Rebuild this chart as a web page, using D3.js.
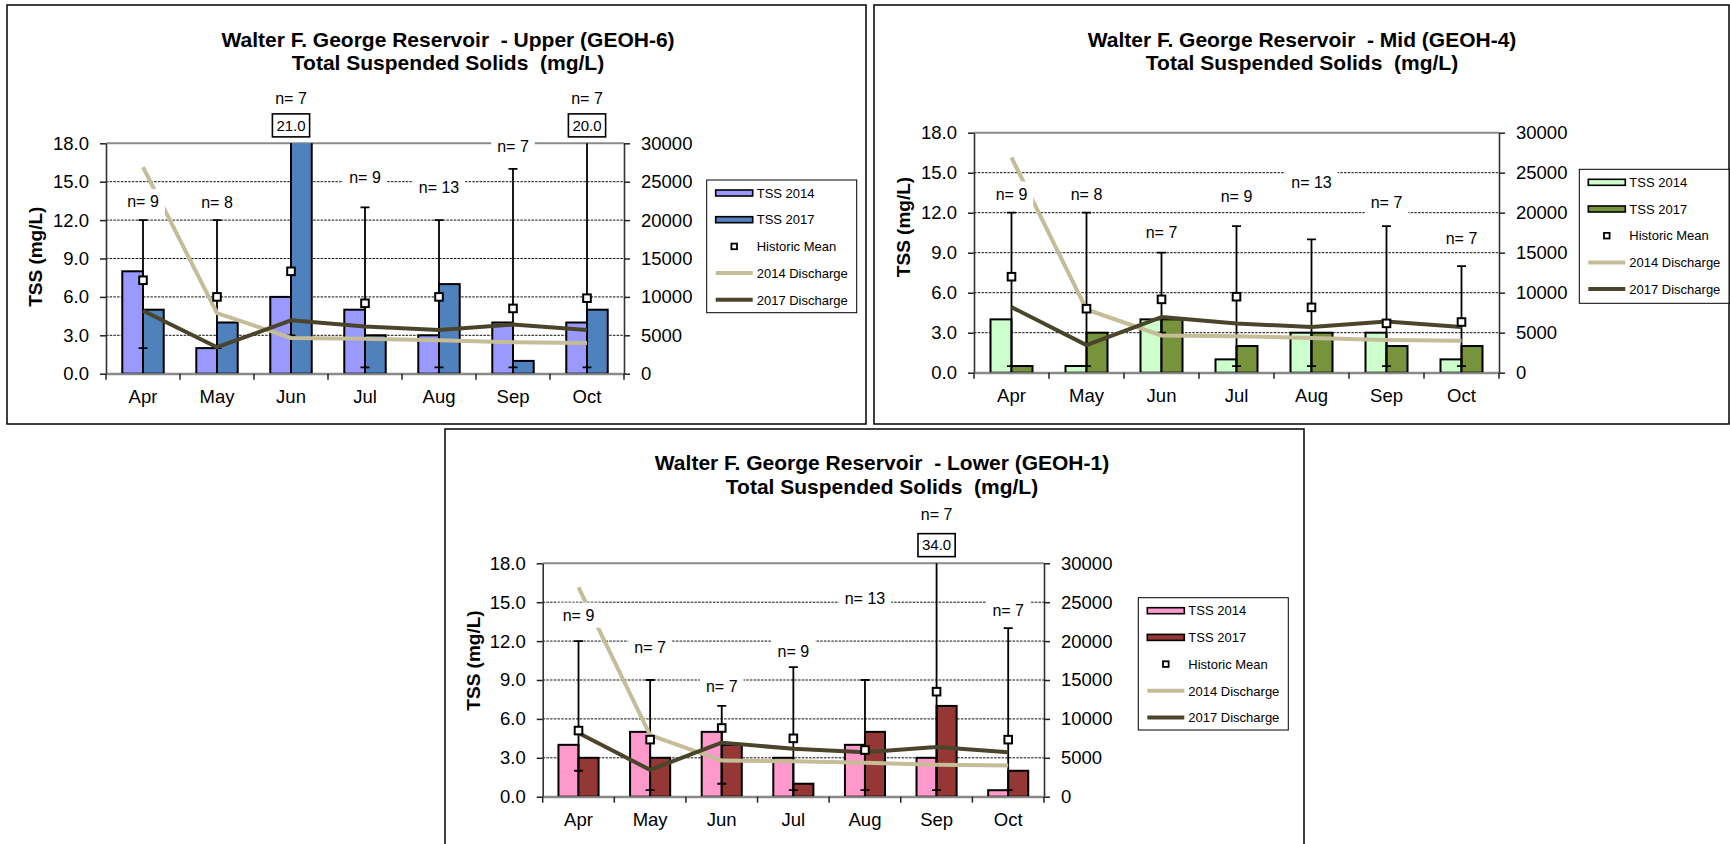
<!DOCTYPE html>
<html>
<head>
<meta charset="utf-8">
<script src="https://cdn.jsdelivr.net/npm/d3@7"></script>
<style>
  body { margin: 0; background: #fff; }
  svg { display: block; }
  text { font-family: "Liberation Sans", Arial, sans-serif; fill: #000; }
</style>
</head>
<body>
<svg id="chart" width="1730" height="844"></svg>
<script>
// ---- shared categories and axis ticks ----
const months = ["Apr", "May", "Jun", "Jul", "Aug", "Sep", "Oct"];
const tssTicks = [0, 3, 6, 9, 12, 15, 18];
const flowTicks = [0, 5000, 10000, 15000, 20000, 25000, 30000];

// ---- reservoir discharge (cfs), same for all stations ----
const discharge2014 = [26900, 7900, 4650, 4550, 4350, 4100, 4000];
const discharge2017 = [8200, 3450, 6950, 6150, 5700, 6400, 5700];

// ---- Upper (GEOH-6) ----
const upperTss2014 = [8, 2, 6, 5, 3, 4, 4];
const upperTss2017 = [5, 4, 21, 3, 7, 1, 5];
const upperMean = [7.3, 6.0, 8.0, 5.5, 6.0, 5.1, 5.9];
const upperMax = [12, 12, 21, 13, 12, 16, 20];
const upperMin = [2, 2, 3, 0.5, 0.5, 0.5, 0.5];
const upperN = [9, 8, 7, 9, 13, 7, 7];
const upperOffScale = [["Jun", 21.0], ["Oct", 20.0]];

// ---- Mid (GEOH-4) ----
const midTss2014 = [4, 0.5, 4, 1, 3, 3, 1];
const midTss2017 = [0.5, 3, 4, 2, 3, 2, 2];
const midMean = [7.2, 4.8, 5.5, 5.7, 4.9, 3.7, 3.8];
const midMax = [12, 12, 9, 11, 10, 11, 8];
const midMin = [0.5, 0.5, 3, 0.5, 0.5, 0.5, 0.5];
const midN = [9, 8, 7, 9, 13, 7, 7];
const midOffScale = [];

// ---- Lower (GEOH-1) ----
const lowerTss2014 = [4, 5, 5, 3, 4, 3, 0.5];
const lowerTss2017 = [3, 3, 4, 1, 5, 7, 2];
const lowerMean = [5.1, 4.4, 5.3, 4.5, 3.6, 8.1, 4.4];
const lowerMax = [12, 9, 7, 10, 9, 34, 13];
const lowerMin = [2, 0.5, 1, 0.5, 0.5, 0.5, 0.5];
const lowerN = [9, 7, 7, 9, 13, 7, 7];
const lowerOffScale = [["Sep", 34.0]];

// ---- panel layout (pixels) ----
const panels = [
  {
    site: "Upper (GEOH-6)",
    tss2014: upperTss2014, tss2017: upperTss2017, mean: upperMean, max: upperMax, min: upperMin,
    n: upperN, offScale: upperOffScale,
    colors: ["#9999FF", "#4F81BD"],
    frame: [7, 5, 866, 424],
    plot: [106, 143.3, 624, 373.7],
    titleX: 448, titleY: 46.5,
    yTitle: [34.7, 256.7],
    legend: [706.7, 180, 150, 132.7],
    nLabelAt: [13.45, 13.4, 21.5, 15.3, 14.55, 17.77, 21.5]
  },
  {
    site: "Mid (GEOH-4)",
    tss2014: midTss2014, tss2017: midTss2017, mean: midMean, max: midMax, min: midMin,
    n: midN, offScale: midOffScale,
    colors: ["#CCFFCC", "#77933C"],
    frame: [874, 5, 1729, 424],
    plot: [974, 132.7, 1499, 372.7],
    titleX: 1302, titleY: 46.5,
    yTitle: [903.3, 227],
    legend: [1579.3, 169.3, 149.7, 134],
    nLabelAt: [13.4, 13.4, 10.55, 13.25, 14.27, 12.8, 10.05]
  },
  {
    site: "Lower (GEOH-1)",
    tss2014: lowerTss2014, tss2017: lowerTss2017, mean: lowerMean, max: lowerMax, min: lowerMin,
    n: lowerN, offScale: lowerOffScale,
    colors: ["#FF99CC", "#953735"],
    frame: [445, 429, 1304, 860],
    plot: [542.7, 563.3, 1044, 796.7],
    titleX: 882, titleY: 470,
    yTitle: [473.3, 660.5],
    legend: [1138.3, 597.7, 150, 132.3],
    nLabelAt: [14.0, 11.55, 8.52, 11.2, 15.31, 21.74, 14.37]
  }
];

const FLOW14 = "#C4BD97";
const FLOW17 = "#4A452A";

const svg = d3.select("#chart");
svg.append("rect").attr("width", 1730).attr("height", 844).attr("fill", "#fff");

panels.forEach((p, pi) => {
  const g = svg.append("g");
  const [x0, y0, x1, y1] = p.plot;

  const x = d3.scaleBand().domain(months).range([x0, x1]).paddingInner(0).paddingOuter(0);
  const y = d3.scaleLinear().domain([0, 18]).range([y1, y0]);
  const yR = d3.scaleLinear().domain([0, 30000]).range([y1, y0]);
  const cx = m => x(m) + x.bandwidth() / 2;
  const bw = x.bandwidth() * 0.28;

  // frame
  const [fx0, fy0, fx1, fy1] = p.frame;
  g.append("rect").attr("x", fx0).attr("y", fy0).attr("width", fx1 - fx0).attr("height", fy1 - fy0)
    .attr("fill", "none").attr("stroke", "#000").attr("stroke-width", 1.5);

  // title (spacing kept as written)
  const title = g.append("text").attr("x", p.titleX).attr("y", p.titleY)
    .attr("text-anchor", "middle").attr("font-size", 21).attr("font-weight", "bold")
    .style("white-space", "pre");
  title.append("tspan").attr("x", p.titleX).text("Walter F. George Reservoir  - " + p.site);
  title.append("tspan").attr("x", p.titleX).attr("dy", 23.5).text("Total Suspended Solids  (mg/L)");

  // clip for plot area
  const clipId = "clip" + pi;
  svg.append("clipPath").attr("id", clipId).append("rect")
    .attr("x", x0).attr("y", y0).attr("width", x1 - x0).attr("height", y1 - y0);

  // gridlines
  g.append("g").selectAll("line").data(tssTicks.filter(t => t > 0 && t < 18)).join("line")
    .attr("x1", x0).attr("x2", x1).attr("y1", d => y(d)).attr("y2", d => y(d))
    .attr("stroke", "#111").attr("stroke-width", 1).attr("stroke-dasharray", "2.5,1.2");
  g.append("line").attr("x1", x0).attr("x2", x1).attr("y1", y(18)).attr("y2", y(18))
    .attr("stroke", "#8a8a8a").attr("stroke-width", 2);
  g.append("line").attr("x1", x0).attr("x2", x1).attr("y1", y(0)).attr("y2", y(0))
    .attr("stroke", "#8a8a8a").attr("stroke-width", 2);

  const clipped = g.append("g").attr("clip-path", `url(#${clipId})`);

  // bars
  const rows = months.map((m, i) => ({
    m, t14: p.tss2014[i], t17: p.tss2017[i], mean: p.mean[i], max: p.max[i], min: p.min[i],
    n: p.n[i], lab: p.nLabelAt[i]
  }));
  clipped.selectAll(".b14").data(rows).join("rect")
    .attr("x", d => cx(d.m) - bw).attr("y", d => y(d.t14)).attr("width", bw)
    .attr("height", d => y(0) - y(d.t14))
    .attr("fill", p.colors[0]).attr("stroke", "#000").attr("stroke-width", 2);
  clipped.selectAll(".b17").data(rows).join("rect")
    .attr("x", d => cx(d.m)).attr("y", d => y(d.t17)).attr("width", bw)
    .attr("height", d => y(0) - y(d.t17))
    .attr("fill", p.colors[1]).attr("stroke", "#000").attr("stroke-width", 2);

  // historic range (min-max) whiskers
  const eb = clipped.append("g").attr("stroke", "#000").attr("stroke-width", 1.8);
  eb.selectAll(".v").data(rows).join("line")
    .attr("x1", d => cx(d.m)).attr("x2", d => cx(d.m))
    .attr("y1", d => y(d.min)).attr("y2", d => y(d.max));
  eb.selectAll(".lo").data(rows).join("line")
    .attr("x1", d => cx(d.m) - 4.5).attr("x2", d => cx(d.m) + 4.5)
    .attr("y1", d => y(d.min)).attr("y2", d => y(d.min));
  eb.selectAll(".hi").data(rows.filter(d => d.max <= 18)).join("line")
    .attr("x1", d => cx(d.m) - 4.5).attr("x2", d => cx(d.m) + 4.5)
    .attr("y1", d => y(d.max)).attr("y2", d => y(d.max));

  // discharge lines on the secondary axis
  const flowLine = d3.line().x((d, i) => cx(months[i])).y(d => yR(d));
  g.append("path").datum(discharge2014).attr("d", flowLine)
    .attr("fill", "none").attr("stroke", FLOW14).attr("stroke-width", 4).attr("stroke-linejoin", "round");
  g.append("path").datum(discharge2017).attr("d", flowLine)
    .attr("fill", "none").attr("stroke", FLOW17).attr("stroke-width", 4).attr("stroke-linejoin", "round");

  // historic mean markers
  g.selectAll(".mk").data(rows).join("rect")
    .attr("x", d => cx(d.m) - 3.8).attr("y", d => y(d.mean) - 3.8)
    .attr("width", 7.6).attr("height", 7.6)
    .attr("fill", "#fff").attr("stroke", "#000").attr("stroke-width", 2);

  // sample-count labels with white backing
  const nl = g.selectAll(".nl").data(rows).join("g");
  nl.each(function (d) {
    const s = d3.select(this);
    const t = s.append("text").attr("x", cx(d.m)).attr("y", y(d.lab) + 5.6)
      .attr("text-anchor", "middle").attr("font-size", 16).text("n= " + d.n);
    const w = t.node().getComputedTextLength();
    s.insert("rect", "text").attr("x", cx(d.m) - w / 2 - 6).attr("y", y(d.lab) - 12.5)
      .attr("width", w + 12).attr("height", 25).attr("fill", "#fff");
  });

  // boxed values for points beyond the axis maximum
  p.offScale.forEach(([m, v]) => {
    const s = g.append("g");
    const t = s.append("text").attr("x", cx(m)).attr("y", y(19.4) + 5.3)
      .attr("text-anchor", "middle").attr("font-size", 15).text(d3.format(".1f")(v));
    const w = t.node().getComputedTextLength();
    s.insert("rect", "text").attr("x", cx(m) - w / 2 - 4).attr("y", y(19.4) - 11.5)
      .attr("width", w + 8).attr("height", 23)
      .attr("fill", "#fff").attr("stroke", "#000").attr("stroke-width", 1.6);
  });

  // left axis
  const axL = g.append("g").attr("transform", `translate(${x0},0)`)
    .call(d3.axisLeft(y).tickValues(tssTicks).tickFormat(d3.format(".1f")).tickSize(6).tickSizeOuter(0).tickPadding(11));
  // right axis
  const axR = g.append("g").attr("transform", `translate(${x1},0)`)
    .call(d3.axisRight(yR).tickValues(flowTicks).tickFormat(d3.format("d")).tickSize(6).tickSizeOuter(0).tickPadding(11));
  // category axis
  const axB = g.append("g").attr("transform", `translate(0,${y1})`)
    .call(d3.axisBottom(x).tickSize(0).tickPadding(16));
  [axL, axR, axB].forEach(a => {
    a.selectAll("text").attr("font-size", 18.5).attr("font-family", "'Liberation Sans', Arial, sans-serif").attr("fill", "#000");
    a.selectAll("line").attr("stroke", "#222").attr("stroke-width", 1.5);
    a.select(".domain").attr("stroke", "#333").attr("stroke-width", 1.6);
  });
  axB.select(".domain").attr("stroke", "#8a8a8a").attr("stroke-width", 2);
  // boundary ticks between months
  const edges = months.map(m => x(m)).concat([x1]);
  g.append("g").selectAll("line").data(edges).join("line")
    .attr("x1", d => d).attr("x2", d => d).attr("y1", y1).attr("y2", y1 + 6)
    .attr("stroke", "#222").attr("stroke-width", 1.5);

  // y title
  g.append("text").attr("transform", `translate(${p.yTitle[0] + 7},${p.yTitle[1]}) rotate(-90)`)
    .attr("text-anchor", "middle").attr("font-size", 19).attr("font-weight", "bold")
    .text("TSS (mg/L)");

  // legend
  const [lx, ly, lw, lh] = p.legend;
  const lg = g.append("g");
  lg.append("rect").attr("x", lx).attr("y", ly).attr("width", lw).attr("height", lh)
    .attr("fill", "#fff").attr("stroke", "#000").attr("stroke-width", 1);
  const items = [
    { label: "TSS 2014", kind: "bar", color: p.colors[0] },
    { label: "TSS 2017", kind: "bar", color: p.colors[1] },
    { label: "Historic Mean", kind: "mark" },
    { label: "2014 Discharge", kind: "line", color: FLOW14 },
    { label: "2017 Discharge", kind: "line", color: FLOW17 }
  ];
  const sx0 = lx + 9, sx1 = lx + 46, tx = lx + 50;
  items.forEach((it, i) => {
    const cy = ly + 13 + i * 26.7;
    if (it.kind === "bar") {
      lg.append("rect").attr("x", sx0).attr("y", cy - 3).attr("width", sx1 - sx0).attr("height", 6)
        .attr("fill", it.color).attr("stroke", "#000").attr("stroke-width", 1.6);
    } else if (it.kind === "mark") {
      lg.append("rect").attr("x", (sx0 + sx1) / 2 - 2.8).attr("y", cy - 2.8).attr("width", 5.6).attr("height", 5.6)
        .attr("fill", "#fff").attr("stroke", "#000").attr("stroke-width", 1.8);
    } else {
      lg.append("line").attr("x1", sx0).attr("x2", sx1).attr("y1", cy).attr("y2", cy)
        .attr("stroke", it.color).attr("stroke-width", 4);
    }
    lg.append("text").attr("x", tx).attr("y", cy + 4.7)
      .attr("font-size", 13).text(it.label);
  });
});
</script>
</body>
</html>
